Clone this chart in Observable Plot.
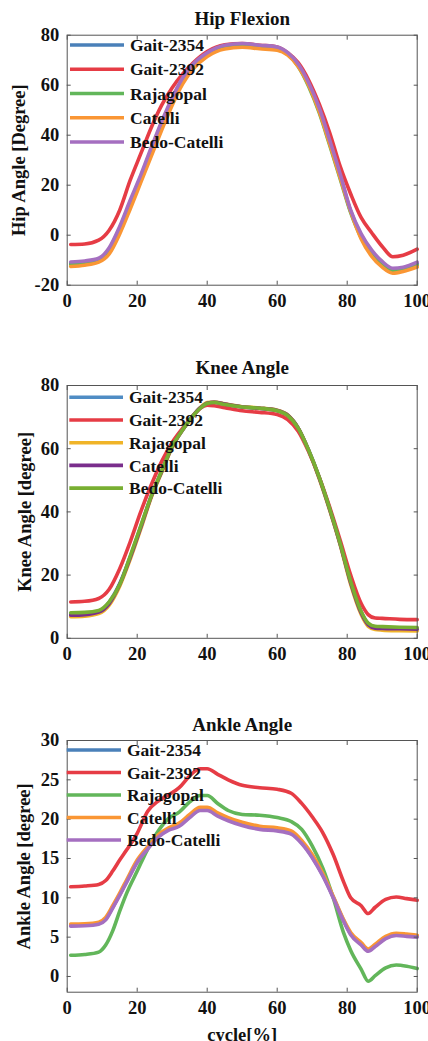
<!DOCTYPE html>
<html><head><meta charset="utf-8">
<script src="https://cdn.jsdelivr.net/npm/d3@7"></script>
<script src="https://cdn.jsdelivr.net/npm/@observablehq/plot@0.6"></script>
<style>
body{margin:0;background:#fff;}
#wrap{position:relative;width:428px;height:1041px;overflow:hidden;background:#fff;}
#wrap svg{position:absolute;left:0;}
</style>
</head><body><div id="wrap"></div>
<script>
const models = ["Gait-2354","Gait-2392","Rajagopal","Catelli","Bedo-Catelli"];
const xTicks = [0,20,40,60,80,100];

// ---- Hip Flexion ----
const hipCycle = [1,5,9,12,15,18,21,24,27,30,33,36,40,45,50,55,60,63,66,69,72,75,78,81,84,87,90,93,96,100];
const hipGait2354 = [-11.2,-10.8,-9.7,-5.6,2.8,13.2,23.3,34.2,44.8,54.4,62.4,68,72.6,75.6,76.3,75.6,74.9,72.6,68.1,60.5,50.3,37.3,23.8,9.5,0,-6.5,-11,-13.8,-13.3,-11.3];
const hipGait2392 = [-3.7,-3.5,-2,2,10,22,32.5,43,52,59,64.5,69,73.5,76.2,76.7,76,75.3,73,69,62,52.5,41,27.5,16.5,7,1,-4.5,-8.6,-8,-5.6];
const hipRajagopal = [-11.7,-11.3,-10,-6.5,1.5,11.5,22,32.5,43,53,61.5,67,72,75,75.5,75,74.3,72.3,67.5,59.5,49,36,22.5,9,-1,-7.5,-12,-14.3,-13.8,-12];
const hipCatelli = [-12.5,-12,-10.8,-7.5,0.5,10.5,21,31.5,42,52,60.5,66.5,71.5,74.5,75.2,74.6,74,72,67.5,60,49.5,36.5,23,9.5,-1.5,-8.5,-12.8,-15.2,-14.5,-12.7];
const hipBedoCatelli = [-10.7,-10.3,-9.2,-5,3.5,14,24,35,45.5,55,63,68.5,73,76,76.7,76,75.3,73,68.5,61,51,38,24.5,10,0.5,-6,-10.5,-13.2,-12.8,-10.8];
const hipYTicks = [-20,0,20,40,60,80];

// ---- Knee Angle ----
const kneeCycle = [1,5,9,12,15,18,21,24,27,30,33,36,38,40,42,45,50,55,60,63,66,69,72,75,78,81,84,86,88,90,95,100];
const kneeGait2354 = [7.6,7.8,8.5,11.5,17.3,25.8,35.3,44.9,52.9,60.7,66,70.5,72.9,74.4,74.7,74.1,73.2,72.8,72.1,70.6,66.5,59.5,50.9,40.9,29.9,17.8,8.3,4.6,3.5,3.4,3.2,3.1];
const kneeGait2392 = [11.5,11.7,12.6,15.5,22,30.5,40,48.5,56,62,66.5,70.5,72.8,73.8,73.6,73,72,71.5,70.8,69.2,65.5,59,51,41.5,31,20,11,7.5,6.4,6.3,6,5.9];
const kneeRajagopal = [6.8,7,7.8,10.5,16.5,25,34.5,44.5,52.5,60.5,66,70.5,73,74.6,74.8,74.2,73.3,72.9,72.2,70.7,66.5,59.3,50.5,40.5,29.5,17,7.5,3.8,2.8,2.6,2.4,2.3];
const kneeCatelli = [7.3,7.5,8.3,11,17,25.5,35,44.8,52.8,60.6,66,70.5,72.9,74.4,74.7,74.1,73.2,72.8,72.1,70.6,66.5,59.4,50.8,40.8,29.8,17.5,8,4.3,3.2,3.1,3,2.9];
const kneeBedoCatelli = [8.1,8.2,8.8,11.5,17,26,35.5,45,53,60.8,66,70.5,72.8,74.3,74.6,74,73.2,72.8,72,70.5,66.5,59.5,51,41,30,18,8.5,4.8,3.8,3.7,3.5,3.4];
const kneeYTicks = [0,20,40,60,80];

// ---- Ankle Angle ----
const ankleCycle = [1,5,9,11,13,15,17,20,23,26,29,32,35,38,40,43,46,50,55,60,64,67,70,73,76,79,81,84,86,88,91,94,97,100];
const ankleGait2354 = [6.5,6.55,6.75,7.3,8.8,10.4,12.1,14.6,16.3,17.8,18.7,19.2,20.3,21.2,21.2,20.5,19.9,19.3,18.8,18.6,18.2,17,15.2,12.9,10.1,7.1,5.4,4.1,3.3,3.9,4.9,5.3,5.2,5.1];
const ankleGait2392 = [11.4,11.5,11.7,12.2,13.4,14.8,16.1,18.2,21,22.3,23.1,24,25.5,26.4,26.4,25.7,25,24.3,24,23.8,23.3,22,20.3,18.3,15.5,12,10,9,8,8.8,9.8,10.1,9.9,9.7];
const ankleRajagopal = [2.7,2.8,3.1,4,5.8,8.3,10.6,13.4,16.2,18.5,20.1,20.9,22.2,23,23,22,21.1,20.6,20.5,20.2,19.7,18.7,16.6,13.8,10,5.5,3.3,0.9,-0.6,0.1,1.1,1.45,1.3,1.0];
const ankleCatelli = [6.65,6.7,6.9,7.5,9,10.6,12.3,14.8,16.5,18,18.9,19.5,20.6,21.5,21.5,20.8,20.2,19.6,19.1,18.9,18.5,17.3,15.5,13.1,10.2,7.2,5.6,4.3,3.5,4.1,5.1,5.5,5.4,5.25];
const ankleBedoCatelli = [6.4,6.45,6.65,7.2,8.7,10.3,12,14.5,16.2,17.7,18.6,19.1,20.2,21.1,21.1,20.4,19.8,19.2,18.7,18.5,18.1,16.9,15.1,12.8,10,7,5.3,4,3.2,3.8,4.8,5.2,5.1,5.0];
const ankleYTicks = [0,5,10,15,20,25,30];

const set1Colors = ["#4a80b9","#e63c45","#62b65a","#fa9634","#a56fc0"];
const kneeColors = ["#4f8cc4","#e63c45","#f0b428","#7a2e8c","#78af32"];

const FONT = "'Liberation Serif','Times New Roman',serif";
const FS = 18.5;
const wrap = document.getElementById("wrap");

function panel(cfg) {
  const rows = [];
  cfg.order.forEach(i => {
    cfg.cycle.forEach((c, j) => rows.push({model: models[i], cycle: c, angle: cfg.series[i][j]}));
  });
  const W = 428, mL = 66.7, mR = 11.3;
  const marks = [
    Plot.line(rows, {x: "cycle", y: "angle", z: "model", stroke: "model", strokeWidth: 3.6, curve: "monotone-x"}),
    Plot.frame({stroke: "#555", strokeWidth: 1}),
    Plot.axisX({anchor: "bottom", ticks: xTicks, tickSize: 0, tickPadding: 9, tickFormat: d => String(d), label: null}),
    Plot.axisX({anchor: "bottom", ticks: xTicks, tickSize: -4, tickFormat: () => "", label: null, stroke: "#555"}),
    Plot.axisX({anchor: "top", ticks: xTicks, tickSize: -4, tickFormat: () => "", label: null, stroke: "#555"}),
    Plot.axisY({anchor: "left", ticks: cfg.yTicks, tickSize: 0, tickPadding: 8, tickFormat: d => String(d), label: null}),
    Plot.axisY({anchor: "left", ticks: cfg.yTicks, tickSize: -4, tickFormat: () => "", label: null, stroke: "#555"}),
    Plot.axisY({anchor: "right", ticks: cfg.yTicks, tickSize: -4, tickFormat: () => "", label: null, stroke: "#555"}),
    Plot.text([cfg.title], {frameAnchor: "top", dy: cfg.titleDy, lineAnchor: "middle", fontSize: 19, fontWeight: "bold"}),
    Plot.text([cfg.ylabel], {frameAnchor: "left", rotate: -90, dx: cfg.ylabelX - mL, textAnchor: "middle", lineAnchor: "middle", fontSize: FS, fontWeight: "bold"})
  ];
  if (cfg.xlabel) marks.push(Plot.text([cfg.xlabel], {frameAnchor: "bottom", dy: cfg.xlabelDy, lineAnchor: "middle", fontSize: FS, fontWeight: "bold"}));
  const svg = Plot.plot({
    width: W, height: cfg.height,
    marginTop: cfg.mT, marginBottom: cfg.mB, marginLeft: mL, marginRight: mR,
    x: {domain: [0, 100]},
    y: {domain: cfg.yDomain},
    color: {domain: models, range: cfg.colors},
    style: {fontFamily: FONT, fontSize: FS + "px", fontWeight: "bold", color: "#111", background: "transparent", overflow: "visible"},
    marks
  });
  svg.style.top = cfg.top + "px";
  // legend (MATLAB-style, no box)
  const g = d3.select(svg).append("g").attr("font-family", FONT).attr("font-size", 17.5)
    .attr("font-weight", "bold").attr("text-anchor", "start");
  models.forEach((m, i) => {
    const y = cfg.mT + cfg.legTop + i * cfg.legStep;
    g.append("line").attr("x1", cfg.legX0).attr("x2", cfg.legX1).attr("y1", y).attr("y2", y)
      .attr("stroke", cfg.colors[i]).attr("stroke-width", 3.6);
    g.append("text").attr("x", cfg.legTX).attr("y", y).attr("dy", "0.35em").attr("fill", "#111")
      .attr("text-anchor", "start").text(m);
  });
  wrap.appendChild(svg);
}

panel({top: 0, height: 340, mT: 34.7, mB: 55.3, cycle: hipCycle,
  series: [hipGait2354, hipGait2392, hipRajagopal, hipCatelli, hipBedoCatelli], order: [0,1,2,3,4],
  colors: set1Colors, yDomain: [-20, 80], yTicks: hipYTicks, title: "Hip Flexion", titleDy: -16,
  ylabel: "Hip Angle [Degree]", ylabelX: 18.5, legTop: 10.3, legStep: 24.25, legX0: 70, legX1: 124, legTX: 130});

panel({top: 340, height: 340, mT: 45, mB: 42.2, cycle: kneeCycle,
  series: [kneeGait2354, kneeGait2392, kneeRajagopal, kneeCatelli, kneeBedoCatelli], order: [0,1,2,3,4],
  colors: kneeColors, yDomain: [0, 80], yTicks: kneeYTicks, title: "Knee Angle", titleDy: -18,
  ylabel: "Knee Angle [degree]", ylabelX: 25, legTop: 12.3, legStep: 22.7, legX0: 69.3, legX1: 123, legTX: 129});

panel({top: 680, height: 361, mT: 60, mB: 49.3, cycle: ankleCycle,
  series: [ankleGait2354, ankleGait2392, ankleRajagopal, ankleCatelli, ankleBedoCatelli], order: [0,1,2,3,4],
  colors: set1Colors, yDomain: [-2, 30], yTicks: ankleYTicks, title: "Ankle Angle", titleDy: -16,
  ylabel: "Ankle Angle [degree]", ylabelX: 24, legTop: 10, legStep: 22.5, legX0: 66.7, legX1: 121, legTX: 127,
  xlabel: "cycle[%]", xlabelDy: 43});
</script>
</body></html>
